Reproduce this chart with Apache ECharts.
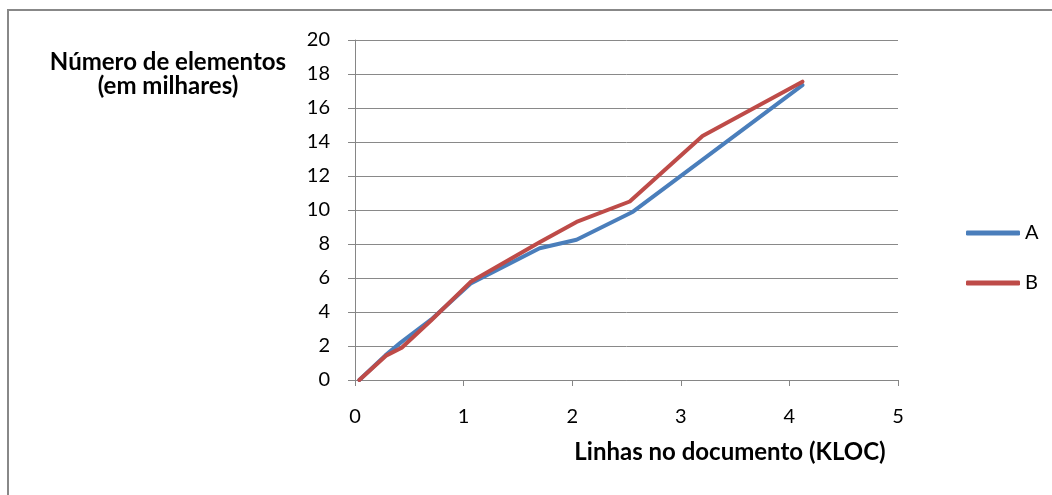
<!DOCTYPE html>
<html>
<head>
<meta charset="utf-8">
<script src="https://cdn.jsdelivr.net/npm/echarts@6/dist/echarts.min.js"></script>
<style>html,body{margin:0;padding:0;background:#fff;}#c{width:1052px;height:495px;}</style>
</head>
<body>
<div id="c"></div>
<script>
const xA = [0.04, 0.28, 0.42, 0.70, 1.07, 1.70, 2.04, 2.56, 4.12];
const yA = [0, 1.45, 2.2, 3.55, 5.7, 7.75, 8.25, 9.9, 17.35];
const xB = [0.04, 0.29, 0.43, 0.70, 1.07, 1.70, 2.04, 2.53, 3.20, 4.12];
const yB = [0, 1.45, 1.9, 3.5, 5.8, 8.1, 9.3, 10.5, 14.35, 17.55];
const seriesNames = ['A', 'B'];
const yTitle = ['Número de elementos', '(em milhares)'];
const xTitle = 'Linhas no documento (KLOC)';

const FONT = 'Lato';
const chart = echarts.init(document.getElementById('c'));
const pair = (xs, ys) => xs.map((x, i) => [x, ys[i]]);
chart.setOption({
  animation: false,
  backgroundColor: '#fff',
  textStyle: { fontFamily: FONT },
  grid: { left: 355, right: 154, top: 40, bottom: 115, containLabel: false },
  xAxis: {
    type: 'value', min: 0, max: 5, interval: 1,
    axisLine: { show: true, lineStyle: { color: '#868686', width: 1 } },
    axisTick: { show: true, length: 6, lineStyle: { color: '#868686' } },
    axisLabel: { fontSize: 20, color: '#000', margin: 27, fontFamily: FONT },
    splitLine: { show: false }
  },
  yAxis: {
    type: 'value', min: 0, max: 20, interval: 2,
    axisLine: { show: true, lineStyle: { color: '#868686', width: 1 } },
    axisTick: { show: true, length: 7, lineStyle: { color: '#868686' } },
    axisLabel: { fontSize: 20, color: '#000', margin: 25, fontFamily: FONT },
    splitLine: { show: true, lineStyle: { color: '#898989', width: 1 } }
  },
  legend: {
    orient: 'vertical', left: 961, top: 218, itemWidth: 54, itemHeight: 5,
    itemGap: 30, icon: 'roundRect',
    textStyle: { fontSize: 20, color: '#000', fontFamily: FONT },
    data: seriesNames
  },
  graphic: [
    { type: 'rect', shape: { x: 8, y: 10, width: 1080, height: 520 },
      style: { fill: 'none', stroke: '#888', lineWidth: 2 }, silent: true, z: -1 },
    { type: 'text', x: 168, y: 74,
      style: { text: yTitle.join('\n'), font: 'bold 24px ' + FONT, fill: '#000', align: 'center', verticalAlign: 'middle', lineHeight: 24 } },
    { type: 'text', x: 730, y: 452,
      style: { text: xTitle, font: 'bold 24px ' + FONT, fill: '#000', align: 'center', verticalAlign: 'middle' } }
  ],
  series: [
    { name: seriesNames[0], type: 'line', data: pair(xA, yA), symbol: 'none',
      lineStyle: { color: '#4A7EBB', width: 4, cap: 'round', join: 'round' }, itemStyle: { color: '#4A7EBB' } },
    { name: seriesNames[1], type: 'line', data: pair(xB, yB), symbol: 'none',
      lineStyle: { color: '#BE4B48', width: 4, cap: 'round', join: 'round' }, itemStyle: { color: '#BE4B48' } }
  ]
});
</script>
</body>
</html>
